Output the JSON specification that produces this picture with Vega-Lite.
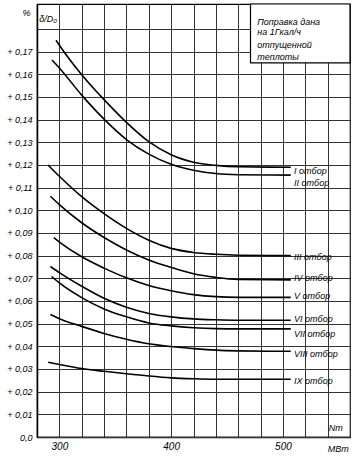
{
  "$schema": "https://vega.github.io/schema/vega-lite/v6.json",
  "width": 313,
  "height": 433,
  "autosize": {"type": "none"},
  "padding": {"left": 37, "top": 4, "right": 9, "bottom": 21},
  "background": "white",
  "config": {
    "view": {"stroke": "black", "strokeWidth": 1.2},
    "font": "Liberation Sans"
  },
  "datasets": {
    "curves": [
      {"c": "I", "mw": 297, "v": 0.1750}, {"c": "I", "mw": 300, "v": 0.1728}, {"c": "I", "mw": 320, "v": 0.1598}, {"c": "I", "mw": 340, "v": 0.1488}, {"c": "I", "mw": 360, "v": 0.1388}, {"c": "I", "mw": 380, "v": 0.1303}, {"c": "I", "mw": 400, "v": 0.1245}, {"c": "I", "mw": 420, "v": 0.1212}, {"c": "I", "mw": 440, "v": 0.1198}, {"c": "I", "mw": 460, "v": 0.1192}, {"c": "I", "mw": 507, "v": 0.1190},
      {"c": "II", "mw": 293.4, "v": 0.1663}, {"c": "II", "mw": 300, "v": 0.1628}, {"c": "II", "mw": 320, "v": 0.1508}, {"c": "II", "mw": 340, "v": 0.1402}, {"c": "II", "mw": 360, "v": 0.1312}, {"c": "II", "mw": 380, "v": 0.1248}, {"c": "II", "mw": 400, "v": 0.1203}, {"c": "II", "mw": 420, "v": 0.1177}, {"c": "II", "mw": 440, "v": 0.1162}, {"c": "II", "mw": 460, "v": 0.1157}, {"c": "II", "mw": 507, "v": 0.1155},
      {"c": "III", "mw": 289.8, "v": 0.1200}, {"c": "III", "mw": 300, "v": 0.1150}, {"c": "III", "mw": 320, "v": 0.1060}, {"c": "III", "mw": 340, "v": 0.0985}, {"c": "III", "mw": 360, "v": 0.0920}, {"c": "III", "mw": 380, "v": 0.0868}, {"c": "III", "mw": 400, "v": 0.0832}, {"c": "III", "mw": 420, "v": 0.0814}, {"c": "III", "mw": 440, "v": 0.0806}, {"c": "III", "mw": 460, "v": 0.0802}, {"c": "III", "mw": 507, "v": 0.0800},
      {"c": "IV", "mw": 292, "v": 0.1062}, {"c": "IV", "mw": 300, "v": 0.1025}, {"c": "IV", "mw": 320, "v": 0.0945}, {"c": "IV", "mw": 340, "v": 0.0880}, {"c": "IV", "mw": 360, "v": 0.0825}, {"c": "IV", "mw": 380, "v": 0.0781}, {"c": "IV", "mw": 400, "v": 0.0748}, {"c": "IV", "mw": 420, "v": 0.0720}, {"c": "IV", "mw": 440, "v": 0.0704}, {"c": "IV", "mw": 460, "v": 0.0695}, {"c": "IV", "mw": 507, "v": 0.0693},
      {"c": "V", "mw": 295, "v": 0.0879}, {"c": "V", "mw": 300, "v": 0.0860}, {"c": "V", "mw": 320, "v": 0.0795}, {"c": "V", "mw": 340, "v": 0.0745}, {"c": "V", "mw": 360, "v": 0.0702}, {"c": "V", "mw": 380, "v": 0.0668}, {"c": "V", "mw": 400, "v": 0.0645}, {"c": "V", "mw": 420, "v": 0.0628}, {"c": "V", "mw": 440, "v": 0.0619}, {"c": "V", "mw": 460, "v": 0.0616}, {"c": "V", "mw": 507, "v": 0.0616},
      {"c": "VI", "mw": 292, "v": 0.0752}, {"c": "VI", "mw": 300, "v": 0.0725}, {"c": "VI", "mw": 320, "v": 0.0665}, {"c": "VI", "mw": 340, "v": 0.0612}, {"c": "VI", "mw": 360, "v": 0.0572}, {"c": "VI", "mw": 380, "v": 0.0545}, {"c": "VI", "mw": 400, "v": 0.0530}, {"c": "VI", "mw": 420, "v": 0.0521}, {"c": "VI", "mw": 440, "v": 0.0517}, {"c": "VI", "mw": 460, "v": 0.0515}, {"c": "VI", "mw": 507, "v": 0.0515},
      {"c": "VII", "mw": 293, "v": 0.0708}, {"c": "VII", "mw": 300, "v": 0.0680}, {"c": "VII", "mw": 320, "v": 0.0615}, {"c": "VII", "mw": 340, "v": 0.0565}, {"c": "VII", "mw": 360, "v": 0.0530}, {"c": "VII", "mw": 380, "v": 0.0503}, {"c": "VII", "mw": 400, "v": 0.0490}, {"c": "VII", "mw": 420, "v": 0.0482}, {"c": "VII", "mw": 440, "v": 0.0478}, {"c": "VII", "mw": 460, "v": 0.0477}, {"c": "VII", "mw": 507, "v": 0.0477},
      {"c": "VIII", "mw": 292, "v": 0.0540}, {"c": "VIII", "mw": 300, "v": 0.0522}, {"c": "VIII", "mw": 320, "v": 0.0488}, {"c": "VIII", "mw": 340, "v": 0.0457}, {"c": "VIII", "mw": 360, "v": 0.0431}, {"c": "VIII", "mw": 380, "v": 0.0411}, {"c": "VIII", "mw": 400, "v": 0.0399}, {"c": "VIII", "mw": 420, "v": 0.0390}, {"c": "VIII", "mw": 440, "v": 0.0383}, {"c": "VIII", "mw": 460, "v": 0.0380}, {"c": "VIII", "mw": 507, "v": 0.0378},
      {"c": "IX", "mw": 290, "v": 0.0330}, {"c": "IX", "mw": 300, "v": 0.0320}, {"c": "IX", "mw": 320, "v": 0.0302}, {"c": "IX", "mw": 340, "v": 0.0290}, {"c": "IX", "mw": 360, "v": 0.0279}, {"c": "IX", "mw": 380, "v": 0.0269}, {"c": "IX", "mw": 400, "v": 0.0261}, {"c": "IX", "mw": 420, "v": 0.0257}, {"c": "IX", "mw": 440, "v": 0.0255}, {"c": "IX", "mw": 460, "v": 0.0255}, {"c": "IX", "mw": 507, "v": 0.0255}
    ],
    "labels": [
      {"t": "I отбор", "mw": 510, "v": 0.1172},
      {"t": "II отбор", "mw": 510, "v": 0.1120},
      {"t": "III отбор", "mw": 510, "v": 0.0795},
      {"t": "IV отбор", "mw": 510, "v": 0.0700},
      {"t": "V отбор", "mw": 510, "v": 0.0620},
      {"t": "VI отбор", "mw": 510, "v": 0.0520},
      {"t": "VII отбор", "mw": 510, "v": 0.0453},
      {"t": "VIII отбор", "mw": 510, "v": 0.0368},
      {"t": "IX отбор", "mw": 510, "v": 0.0247}
    ],
    "box": [{"mw": 471, "mw2": 560, "v": 0.165, "v2": 0.191}],
    "notes": [
      {"t": "Поправка дана", "mw": 477, "v": 0.1830},
      {"t": "на 1Гкал/ч", "mw": 477, "v": 0.1785},
      {"t": "отпущенной", "mw": 477, "v": 0.1727},
      {"t": "теплоты", "mw": 477, "v": 0.1678},
      {"t": "δ/D₀", "mw": 282, "v": 0.1845},
      {"t": "%", "mw": 267, "v": 0.1870},
      {"t": "Nт", "mw": 541, "v": 0.0040},
      {"t": "МВт", "mw": 540, "v": -0.0052}
    ]
  },
  "encoding": {
    "x": {
      "field": "mw", "type": "quantitative",
      "scale": {"domain": [280, 560], "nice": false, "zero": false},
      "axis": {
        "title": null,
        "values": [280, 300, 320, 340, 360, 380, 400, 420, 440, 460, 480, 500, 520, 540, 560],
        "labelExpr": "(datum.value == 300 || datum.value == 400 || datum.value == 500) ? datum.value : ''",
        "labelOverlap": false,
        "labelFontStyle": "italic", "labelFontSize": 10, "labelColor": "black",
        "ticks": true, "tickSize": -433, "tickColor": "#333333", "tickWidth": 1, "labelPadding": 437,
        "grid": false,
        "domainColor": "black", "domainWidth": 1.5
      }
    },
    "y": {
      "field": "v", "type": "quantitative",
      "scale": {"domain": [0, 0.191], "nice": false},
      "axis": {
        "title": null,
        "values": [0, 0.01, 0.02, 0.03, 0.04, 0.05, 0.06, 0.07, 0.08, 0.09, 0.1, 0.11, 0.12, 0.13, 0.14, 0.15, 0.16, 0.17, 0.18],
        "labelExpr": "datum.value > 0.175 ? '' : (datum.value < 0.001 ? '0,0' : '+ ' + replace(format(datum.value, '.2f'), '.', ','))",
        "labelOverlap": false,
        "labelFontStyle": "italic", "labelFontSize": 9, "labelColor": "black",
        "ticks": true, "tickSize": -313, "tickColor": "#333333", "tickWidth": 1, "labelPadding": 318,
        "grid": false,
        "domainColor": "black", "domainWidth": 1.5
      }
    }
  },
  "layer": [
    {
      "data": {"name": "curves"},
      "mark": {"type": "line", "interpolate": "monotone", "color": "black", "strokeWidth": 1.6},
      "encoding": {
        "detail": {"field": "c"}
      }
    },
    {
      "data": {"name": "box"},
      "mark": {"type": "rect", "fill": "white", "stroke": "black", "strokeWidth": 1.2},
      "encoding": {
        "x2": {"field": "mw2"},
        "y2": {"field": "v2"}
      }
    },
    {
      "data": {"name": "labels"},
      "mark": {"type": "text", "align": "left", "baseline": "middle", "fontStyle": "italic", "fontSize": 9, "color": "black"},
      "encoding": {
        "text": {"field": "t"}
      }
    },
    {
      "data": {"name": "notes"},
      "mark": {"type": "text", "align": "left", "baseline": "middle", "fontStyle": "italic", "fontSize": 9, "color": "black"},
      "encoding": {
        "text": {"field": "t"}
      }
    }
  ]
}
